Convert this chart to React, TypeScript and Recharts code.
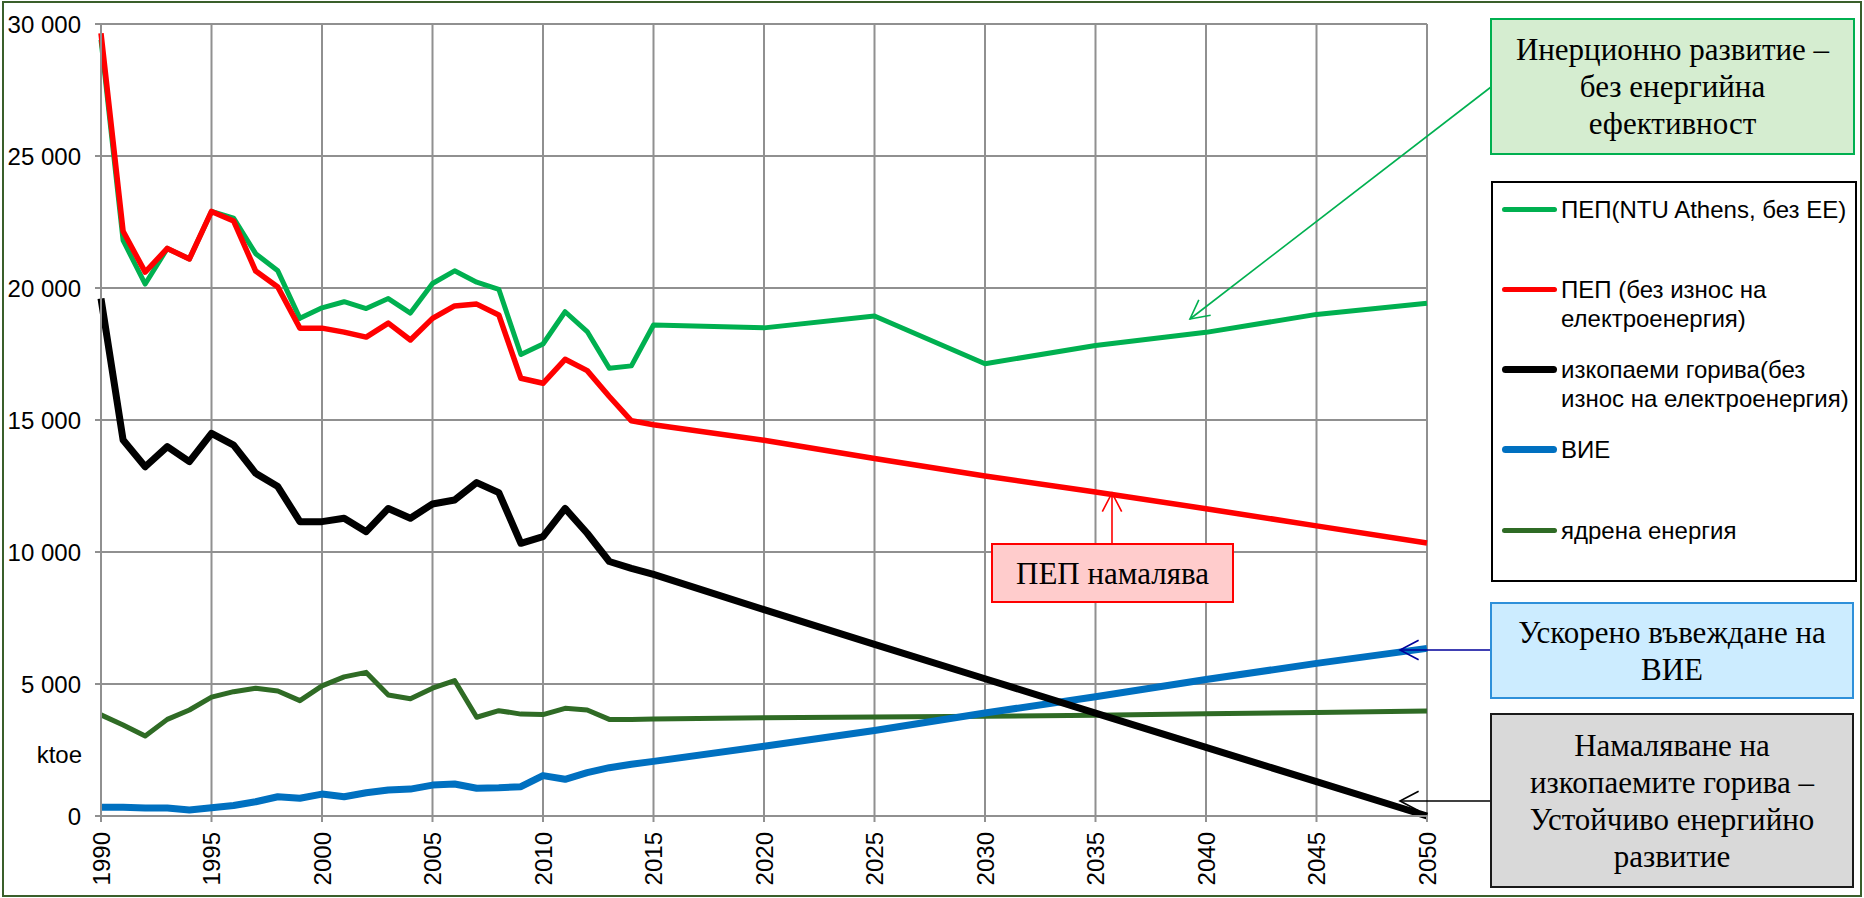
import React from "react";
import { LineChart, Line, XAxis, YAxis, CartesianGrid } from "recharts";

// ktoe, Bulgaria — primary energy scenarios 1990–2050
const YEARS = [
  1990, 1991, 1992, 1993, 1994, 1995, 1996, 1997, 1998, 1999, 2000, 2001, 2002,
  2003, 2004, 2005, 2006, 2007, 2008, 2009, 2010, 2011, 2012, 2013, 2014, 2015,
  2020, 2025, 2030, 2035, 2040, 2045, 2050,
];
const PEP_NTU = [
  29400, 21800, 20150, 21500, 21100, 22900, 22650, 21300, 20650, 18850, 19250, 19480, 19220,
  19600, 19050, 20170, 20650, 20220, 19950, 17480, 17880, 19100, 18350, 16960, 17050, 18600,
  18490, 18940, 17130, 17820, 18320, 19000, 19420,
];
const PEP = [
  29650, 22150, 20600, 21500, 21100, 22900, 22540, 20640, 20040, 18480, 18480, 18330, 18140,
  18670, 18030, 18850, 19320, 19390, 18980, 16580, 16390, 17300, 16870, 15890, 14970, 14820,
  14230, 13540, 12880, 12270, 11640, 10990, 10340,
];
const FOSSIL = [
  19600, 14240, 13230, 13990, 13420, 14490, 14050, 12980, 12480, 11150, 11150, 11280, 10770,
  11650, 11280, 11820, 11970, 12630, 12250, 10330, 10580, 11650, 10710, 9640, 9380, 9150,
  7820, 6500, 5200, 3900, 2600, 1300, 0,
];
const RES = [
  330, 330, 300, 300, 230, 315, 400, 540, 730, 670, 830, 730, 880,
  985, 1020, 1170, 1210, 1050, 1070, 1110, 1530, 1390, 1640, 1830, 1960, 2070,
  2640, 3240, 3900, 4520, 5170, 5780, 6350,
];
const NUCLEAR = [
  3830, 3450, 3030, 3660, 4015, 4500, 4710, 4840, 4735, 4370, 4930, 5270, 5440,
  4580, 4440, 4840, 5130, 3740, 3990, 3860, 3840, 4080, 4015, 3660, 3660, 3670,
  3720, 3750, 3780, 3820, 3870, 3920, 3980,
];
const X_TICKS = [1990, 1995, 2000, 2005, 2010, 2015, 2020, 2025, 2030, 2035, 2040, 2045, 2050];
const Y_TICKS = [0, 5000, 10000, 15000, 20000, 25000, 30000];

const SERIES = [
  { key: "pepNtu", name: "ПЕП(NTU Athens, без ЕЕ)", color: "#00B050", width: 5 },
  { key: "pep", name: "ПЕП (без износ на\nелектроенергия)", color: "#FF0000", width: 5.5 },
  { key: "nuclear", name: "ядрена енергия", color: "#2F6B25", width: 5 },
  { key: "res", name: "ВИЕ", color: "#0070C0", width: 7 },
  { key: "fossil", name: "изкопаеми горива(без\nизнос на електроенергия)", color: "#000000", width: 7 },
];
const LEGEND_ORDER = ["pepNtu", "pep", "fossil", "res", "nuclear"];

const data = YEARS.map((year, i) => ({
  year,
  pepNtu: PEP_NTU[i],
  pep: PEP[i],
  fossil: FOSSIL[i],
  res: RES[i],
  nuclear: NUCLEAR[i],
}));

const SANS = '"Liberation Sans", Arial, sans-serif';
const SERIF = '"Liberation Serif", "Times New Roman", serif';
const GRID = "#909090";

const fmt = (v: number) => (v === 0 ? "0" : v.toLocaleString("en-US").replace(/,/g, " "));

function YearTick(props: any) {
  const { x, y, payload } = props;
  return (
    <text
      transform={`translate(${x},${y + 8}) rotate(-90)`}
      textAnchor="end"
      dy="0.36em"
      fontSize={24}
      fontFamily={SANS}
      fill="#000"
    >
      {payload.value}
    </text>
  );
}

function Note({ left, top, width, height, bg, border, lines }: any) {
  return (
    <div
      style={{
        position: "absolute", left, top, width, height, boxSizing: "border-box",
        background: bg, border: `2px solid ${border}`, display: "flex",
        flexDirection: "column", justifyContent: "center", alignItems: "center",
        fontFamily: SERIF, fontSize: 31, lineHeight: "37px", color: "#000", textAlign: "center",
      }}
    >
      {lines.map((l: string) => <div key={l}>{l}</div>)}
    </div>
  );
}

function Arrow({ x1, y1, x2, y2, color }: any) {
  // open arrowhead at (x2, y2)
  const a = Math.atan2(y1 - y2, x1 - x2);
  const len = 21, spread = 0.48;
  const p1 = [x2 + len * Math.cos(a + spread), y2 + len * Math.sin(a + spread)];
  const p2 = [x2 + len * Math.cos(a - spread), y2 + len * Math.sin(a - spread)];
  return (
    <g stroke={color} strokeWidth={1.6} fill="none">
      <line x1={x1} y1={y1} x2={x2} y2={y2} />
      <polyline points={`${p1[0]},${p1[1]} ${x2},${y2} ${p2[0]},${p2[1]}`} />
    </g>
  );
}

function LegendBox() {
  return (
    <div
      style={{
        position: "absolute", left: 1491, top: 181, width: 366, height: 401,
        boxSizing: "border-box", border: "2px solid #000", background: "#fff",
      }}
    >
      {LEGEND_ORDER.map((k, i) => {
        const s = SERIES.find((d) => d.key === k)!;
        const cy = 26 + i * 80.3;
        return (
          <div key={k} style={{ position: "absolute", left: 0, top: cy - 14.5 }}>
            <div
              style={{
                position: "absolute", left: 9, top: 14.5 - s.width / 2, width: 55,
                height: s.width, borderRadius: s.width, background: s.color,
              }}
            />
            <div
              style={{
                position: "absolute", left: 68, top: 0, whiteSpace: "pre",
                fontFamily: SANS, fontSize: 24, lineHeight: "29px", color: "#000",
              }}
            >
              {s.name}
            </div>
          </div>
        );
      })}
    </div>
  );
}

export default function App() {
  return (
    <div style={{ position: "absolute", left: 0, top: 0, width: 1864, height: 898, background: "#fff", overflow: "hidden" }}>
      <LineChart
        width={1864}
        height={898}
        data={data}
        margin={{ top: 24, right: 437, bottom: 0, left: 6 }}
      >
        <CartesianGrid stroke={GRID} strokeWidth={2} />
        <XAxis
          dataKey="year"
          type="number"
          domain={[1990, 2050]}
          ticks={X_TICKS}
          interval={0}
          height={82}
          tick={<YearTick />}
          tickSize={6}
          tickLine={{ stroke: GRID, strokeWidth: 2 }}
          axisLine={{ stroke: GRID, strokeWidth: 2 }}
        />
        <YAxis
          type="number"
          domain={[0, 30000]}
          ticks={Y_TICKS}
          interval={0}
          width={95}
          tickSize={6}
          tickMargin={14}
          tickFormatter={fmt}
          tick={{ fontSize: 24, fontFamily: SANS, fill: "#000" }}
          tickLine={{ stroke: GRID, strokeWidth: 2 }}
          axisLine={{ stroke: GRID, strokeWidth: 2 }}
        />
        {SERIES.map((s) => (
          <Line
            key={s.key}
            type="linear"
            dataKey={s.key}
            name={s.name}
            stroke={s.color}
            strokeWidth={s.width}
            strokeLinejoin="round"
            dot={false}
            activeDot={false}
            isAnimationActive={false}
          />
        ))}
      </LineChart>

      <div style={{ position: "absolute", left: 0, width: 82, top: 740, textAlign: "right", fontFamily: SANS, fontSize: 24, lineHeight: "30px" }}>
        ktoe
      </div>

      <LegendBox />

      <Note left={1490} top={18} width={365} height={137} bg="#D5EDD0" border="#00B050"
        lines={["Инерционно развитие –", "без енергийна", "ефективност"]} />
      <Note left={991} top={543} width={243} height={60} bg="#FFCCCC" border="#FF0000"
        lines={["ПЕП намалява"]} />
      <Note left={1490} top={602} width={364} height={97} bg="#CCECFF" border="#2E90DA"
        lines={["Ускорено въвеждане на", "ВИЕ"]} />
      <Note left={1490} top={713} width={364} height={175} bg="#D9D9D9" border="#1a1a1a"
        lines={["Намаляване на", "изкопаемите горива –", "Устойчиво енергийно", "развитие"]} />

      <svg width={1864} height={898} style={{ position: "absolute", left: 0, top: 0, pointerEvents: "none" }}>
        <Arrow x1={1491} y1={87} x2={1190} y2={319} color="#00B050" />
        <Arrow x1={1112} y1={543} x2={1112} y2={493} color="#FF0000" />
        <Arrow x1={1490} y1={650} x2={1400} y2={650} color="#00009A" />
        <Arrow x1={1490} y1={801} x2={1400} y2={801} color="#000000" />
      </svg>

      <div style={{ position: "absolute", left: 2, top: 1, width: 1860, height: 896, boxSizing: "border-box", border: "2px solid #3A5F2B" }} />
    </div>
  );
}
